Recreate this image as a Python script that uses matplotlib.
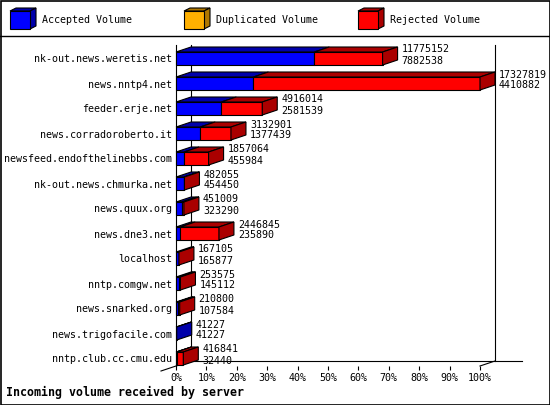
import numpy as np
import matplotlib
matplotlib.use('Agg')
import matplotlib.pyplot as plt
from matplotlib.patches import Polygon, Rectangle
from matplotlib.lines import Line2D

# data
servers = ['nk-out.news.weretis.net', 'news.nntp4.net', 'feeder.erje.net',
           'news.corradoroberto.it', 'newsfeed.endofthelinebbs.com',
           'nk-out.news.chmurka.net', 'news.quux.org', 'news.dne3.net',
           'localhost', 'nntp.comgw.net', 'news.snarked.org',
           'news.trigofacile.com', 'nntp.club.cc.cmu.edu']
total = [11775152, 17327819, 4916014, 3132901, 1857064, 482055, 451009,
         2446845, 167105, 253575, 210800, 41227, 416841]
accepted = [7882538, 4410882, 2581539, 1377439, 455984, 454450, 323290,
            235890, 165877, 145112, 107584, 41227, 32440]
duplicated = [0] * len(servers)
rejected = [t - a - d for t, a, d in zip(total, accepted, duplicated)]

legend_labels = ['Accepted Volume', 'Duplicated Volume', 'Rejected Volume']
front_colors = ['#0000ff', '#ffb000', '#ff0000']
dark_colors = ['#0000aa', '#b07800', '#aa0000']

plt.rcParams['font.family'] = 'DejaVu Sans Mono'
W, H = 550, 405
fig = plt.figure(figsize=(W / 100, H / 100), dpi=100)

n = len(servers)
ax = fig.add_axes([176 / W, 1 - 366 / H, 304 / W, (366 - 44.5) / H])
ax.set_xlim(0, 100)
y_bottom, y_top = n - 0.7, -0.56
ax.set_ylim(y_bottom, y_top)

# depth of the fake 3d: 15 px right, 5 px up
inv = ax.transData.inverted()
base = ax.transData.transform((0, 0))
ddx, ddy = inv.transform(base + np.array([15, 5]))

vmax = max(total)
pct = [np.array(v) / vmax * 100 for v in (accepted, duplicated, rejected)]

bh = 0.52
for i in range(n):
    left = 0
    top = i - bh / 2
    bot = i + bh / 2
    for vals, fc, dc in zip(pct, front_colors, dark_colors):
        w = vals[i]
        if w <= 0:
            continue
        ax.barh(i, w, left=left, height=bh, color=fc, edgecolor='black',
                linewidth=0.8, zorder=3, clip_on=False)
        ax.add_patch(Polygon([(left, top), (left + w, top), (left + w + ddx, top + ddy),
                              (left + ddx, top + ddy)], closed=True, facecolor=dc,
                             edgecolor='black', linewidth=0.8, zorder=3, clip_on=False))
        left += w
        side = dc
    ax.add_patch(Polygon([(left, top), (left + ddx, top + ddy), (left + ddx, bot + ddy),
                          (left, bot)], closed=True, facecolor=side,
                         edgecolor='black', linewidth=0.8, zorder=3, clip_on=False))
    ax.annotate(str(total[i]), xy=(left, i), xytext=(19, 9), textcoords='offset pixels',
                va='center', ha='left', fontsize=7.2, zorder=4)
    ax.annotate(str(accepted[i]), xy=(left, i), xytext=(19, -2), textcoords='offset pixels',
                va='center', ha='left', fontsize=7.2, zorder=4)

# back wall and floor edges
kw = dict(color='black', linewidth=0.8, zorder=1, clip_on=False)
floor = y_bottom + ddy
ax.plot([ddx, ddx], [y_top, floor], **kw)
ax.plot([100 + ddx, 100 + ddx], [y_top, floor], **kw)
ax.plot([ddx, 100 + 2.8 * ddx], [floor, floor], **kw)
ax.plot([-ddx, ddx], [y_bottom - ddy, floor], **kw)
ax.plot([100, 100 + ddx], [y_bottom, floor], **kw)

ticks = list(range(0, 101, 10))
ax.set_xticks(ticks, [f'{t}%' for t in ticks])
ax.set_yticks(range(n), servers)
ax.tick_params(axis='x', length=3, width=0.8, pad=2, labelsize=7.2)
ax.tick_params(axis='y', length=0, pad=3, labelsize=7.2)
for s in ['top', 'right', 'bottom']:
    ax.spines[s].set_visible(False)
ax.spines['left'].set_linewidth(0.8)
ax.patch.set_visible(False)

fig.text(6 / W, 1 - 392 / H, 'Incoming volume received by server',
         fontsize=8.4, fontweight='bold', va='center', ha='left')

# legend strip with small cubes
lax = fig.add_axes([0, 1 - 35 / H, 1, 35 / H])
lax.set_xlim(0, W)
lax.set_ylim(35, 0)
lax.axis('off')
for k, (lab, fc, dc) in enumerate(zip(legend_labels, front_colors, dark_colors)):
    x0 = 10 + 174 * k
    lax.add_patch(Polygon([(x0, 11), (x0 + 20, 11), (x0 + 26, 8), (x0 + 6, 8)],
                          closed=True, facecolor=dc, edgecolor='black', linewidth=0.8))
    lax.add_patch(Polygon([(x0 + 20, 11), (x0 + 26, 8), (x0 + 26, 26), (x0 + 20, 29)],
                          closed=True, facecolor=dc, edgecolor='black', linewidth=0.8))
    lax.add_patch(Rectangle((x0, 11), 20, 18, facecolor=fc, edgecolor='black', linewidth=0.8))
    lax.text(x0 + 32, 20, lab, fontsize=7.2, va='center', ha='left')

# frame and separator
fig.add_artist(Rectangle((0.5 / W, 0.5 / H), 1 - 1 / W, 1 - 1 / H, transform=fig.transFigure,
                         fill=False, edgecolor='black', linewidth=1.2))
fig.add_artist(Line2D([0, 1], [1 - 35.5 / H] * 2, transform=fig.transFigure,
                      color='black', linewidth=1.0))

fig.savefig('out.png', dpi=100)
